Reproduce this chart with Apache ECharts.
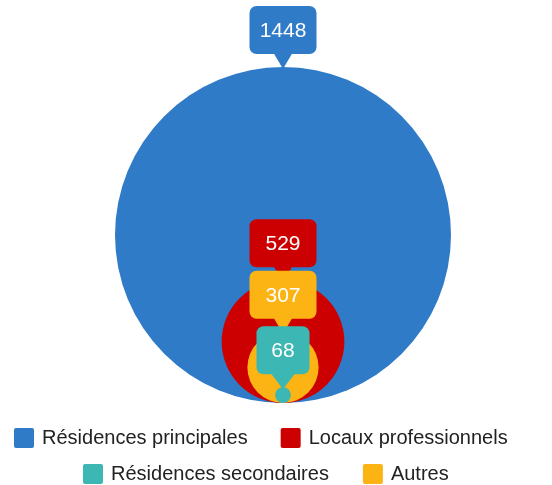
<!DOCTYPE html>
<html>
<head>
<meta charset="utf-8">
<script src="https://cdn.jsdelivr.net/npm/echarts@6/dist/echarts.min.js"></script>
<style>
html,body{margin:0;padding:0;background:#fff;}
#chart{width:552px;height:485px;}
</style>
</head>
<body>
<div id="chart"></div>
<script>
var categories = ['Résidences principales', 'Locaux professionnels', 'Autres', 'Résidences secondaires'];
var values = [1448, 529, 307, 68];
var colors = ['#2F7BC8', '#CC0000', '#FCB415', '#3CB7B3'];
var legendRow1 = ['Résidences principales', 'Locaux professionnels'];
var legendRow2 = ['Résidences secondaires', 'Autres'];

var FONT = '"Liberation Sans", Arial, sans-serif';
var maxV = Math.max.apply(null, values);
var ICON = 'path://M2,0 L18,0 Q20,0 20,2 L20,18 Q20,20 18,20 L2,20 Q0,20 0,18 L0,2 Q0,0 2,0 Z';

function makeRender(idx) {
  return function (params, api) {
    var v = api.value(1);
    var bottom = api.coord([api.value(0), 0]);
    var r = api.size([0, v])[1];
    var cx = bottom[0];
    var cy = bottom[1] - r;
    var color = api.visual('color');
    var top = cy - r;
    var tipY = top + 2;
    var boxBottom = tipY - 15;
    var boxH = 48;
    var boxTop = boxBottom - boxH;
    var txt = String(v);
    var w = txt.length >= 3 ? 67 : 53;
    var hb = txt.length >= 3 ? 10 : 13;
    return {
      type: 'group',
      children: [
        {
          type: 'circle',
          shape: { cx: cx, cy: cy, r: r },
          style: { fill: color },
          z2: idx
        },
        {
          type: 'polygon',
          shape: { points: [[cx - hb, boxBottom - 2], [cx + hb, boxBottom - 2], [cx, tipY]] },
          style: { fill: color },
          z2: 20 + idx
        },
        {
          type: 'rect',
          shape: { x: cx - w / 2, y: boxTop, width: w, height: boxH, r: 7 },
          style: { fill: color },
          z2: 20 + idx
        },
        {
          type: 'text',
          style: {
            text: txt, x: cx, y: boxTop + boxH / 2 + 1,
            align: 'center', verticalAlign: 'middle',
            fill: '#ffffff', font: '21px ' + FONT
          },
          z2: 40 + idx
        }
      ]
    };
  };
}

var series = categories.map(function (name, i) {
  return {
    type: 'custom',
    name: name,
    coordinateSystem: 'cartesian2d',
    itemStyle: { color: colors[i] },
    data: [[0, values[i]]],
    renderItem: makeRender(i),
    silent: true
  };
});

var legendText = { fontSize: 20, color: '#222', fontFamily: FONT, padding: [0, 0, 0, 3] };

var option = {
  animation: false,
  color: colors,
  grid: { left: 115, top: 67, width: 336, height: 336 },
  xAxis: { type: 'value', min: -1, max: 1, show: false },
  yAxis: { type: 'value', min: 0, max: 2 * maxV, show: false },
  legend: [
    {
      data: legendRow1, left: 14, top: 428, padding: 0,
      itemWidth: 20, itemHeight: 20, itemGap: 33, icon: ICON,
      textStyle: legendText, selectedMode: false
    },
    {
      data: legendRow2, left: 83, top: 464, padding: 0,
      itemWidth: 20, itemHeight: 20, itemGap: 34, icon: ICON,
      textStyle: legendText, selectedMode: false
    }
  ],
  series: series
};

var chart = echarts.init(document.getElementById('chart'), null, { renderer: 'canvas' });
chart.setOption(option);
</script>
</body>
</html>
